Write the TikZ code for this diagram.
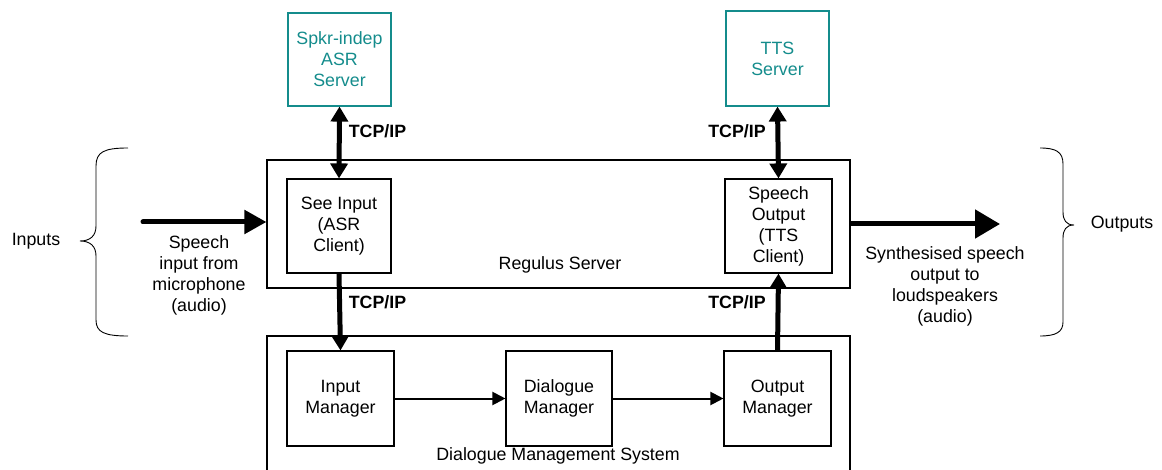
\documentclass[tikz,border=0pt]{standalone}
\usepackage{fontspec}
\setmainfont{Liberation Sans}
\usetikzlibrary{arrows.meta}
\definecolor{tealx}{RGB}{20,140,140}
\begin{document}
\begin{tikzpicture}[x=1pt,y=-1pt,
  every node/.style={font=\fontsize{17.8}{21}\selectfont, inner sep=0pt, align=center},
  srv/.style={draw=tealx, text=tealx, line width=1.1pt},
  thick arrow/.style={line width=5pt, -{Triangle[length=15pt,width=17pt]}},
  thick both/.style={line width=5pt, {Triangle[length=15pt,width=17pt]}-{Triangle[length=15pt,width=17pt]}},
  thin arrow/.style={line width=2pt, -{Triangle[length=13pt,width=13pt]}},
  lbl/.style={font=\bfseries\fontsize{17.8}{21}\selectfont},
  brace/.style={line width=0.9pt}]
\useasboundingbox (0,0) rectangle (1162,470);
% servers
\node[srv, minimum width=103pt, minimum height=93pt] (asr) at (339.5,59.5) {Spkr-indep\\ASR\\Server};
\node[srv, minimum width=103pt, minimum height=95pt] (tts) at (777.5,58.5) {TTS\\Server};
% Regulus server
\node[draw, line width=1.1pt, minimum width=583pt, minimum height=128pt] (reg) at (558.5,224) {};
\node (reglbl) at (560,265) {Regulus Server};
\node[draw, line width=1.1pt, minimum width=104pt, minimum height=94pt] (seein) at (339,226) {See Input\\(ASR\\Client)};
\node[draw, line width=1.1pt, minimum width=107pt, minimum height=94pt] (spout) at (778.5,226) {Speech\\Output\\(TTS\\Client)};
% Dialogue Management System
\node[draw, line width=1.1pt, minimum width=583pt, minimum height=144pt] (dms) at (558.5,408) {};
\node (dmslbl) at (558,456) {Dialogue Management System};
\node[draw, line width=1.1pt, minimum width=107pt, minimum height=95pt] (inm) at (340.5,398.5) {Input\\Manager};
\node[draw, line width=1.1pt, minimum width=106pt, minimum height=95pt] (dm) at (559,398.5) {Dialogue\\Manager};
\node[draw, line width=1.1pt, minimum width=107pt, minimum height=95pt] (outm) at (777.5,398.5) {Output\\Manager};
% thin arrows
\draw[thin arrow] (inm.east) -- (dm.west);
\draw[thin arrow] (dm.east) -- (outm.west);
% TCP/IP arrows
\draw[thick both] (asr.south) -- (seein.north);
\draw[thick both] (tts.south) -- (spout.north);
\draw[thick arrow] (seein.south) -- (inm.north);
\draw[thick arrow] (outm.north) -- (spout.south);
\node[lbl] (t1) at (377.5,131) {TCP/IP};
\node[lbl] (t2) at (737,131) {TCP/IP};
\node[lbl] (t3) at (377.5,302) {TCP/IP};
\node[lbl] (t4) at (737,302) {TCP/IP};
% input/output
\coordinate (inStart) at (143,222);
\draw[line width=5pt, line cap=round, -{Triangle[length=22pt,width=23pt]}] (inStart) -- (inStart -| reg.west);
\coordinate (outEnd) at (1000,224);
\draw[line width=5pt, -{Triangle[length=25pt,width=28pt]}] (reg.east |- outEnd) -- (outEnd);
\node (spin) at (199,275) {Speech\\input from\\microphone\\(audio)};
\node (spsyn) at (945,286) {Synthesised speech\\output to\\loudspeakers\\(audio)};
% braces
\draw[brace] (128,148) .. controls (104,148) and (96,152) .. (96,166) -- (96,226)
  .. controls (96,236) and (90,241) .. (80,241) .. controls (90,241) and (96,246) .. (96,256)
  -- (96,320) .. controls (96,332) and (104,336) .. (128,336);
\draw[brace] (1040,148) .. controls (1056,148) and (1063,152) .. (1063,164) -- (1063,212)
  .. controls (1063,220) and (1066,225) .. (1074,225) .. controls (1066,225) and (1063,230) .. (1063,238)
  -- (1063,322) .. controls (1063,332) and (1056,336) .. (1040,336);
\node (inputs) at (36,241) {Inputs};
\node (outputs) at (1122,224) {Outputs};
\end{tikzpicture}
\end{document}
